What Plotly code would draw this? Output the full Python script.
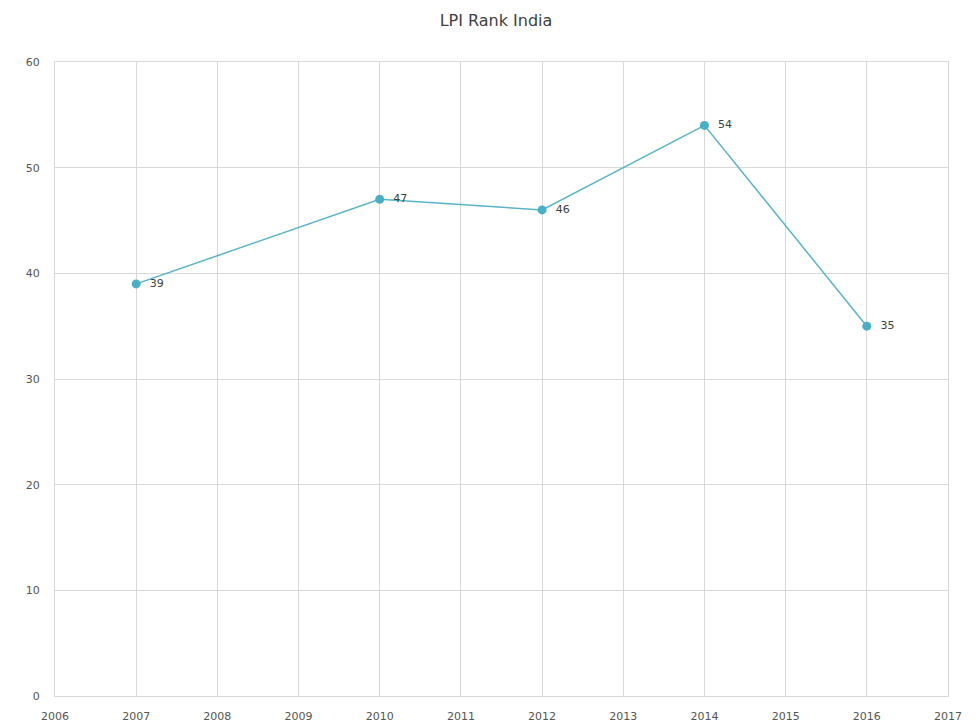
import plotly.graph_objects as go

years = [2007, 2010, 2012, 2014, 2016]
rank = [39, 47, 46, 54, 35]
labels = ["  " + str(v) for v in rank]

fig = go.Figure()
fig.add_trace(go.Scatter(
    x=years, y=rank, mode="lines+markers+text",
    text=labels, textposition="middle right",
    textfont=dict(family="DejaVu Sans", size=11, color="#404040"),
    line=dict(color="#5ab4c9", width=1.5),
    marker=dict(color="#4aaec4", size=9),
    cliponaxis=False, showlegend=False,
))

fig.update_layout(
    width=976, height=728,
    paper_bgcolor="white", plot_bgcolor="white",
    margin=dict(l=47, r=36, t=54, b=40),
    title=dict(text="LPI Rank India", x=0.5, xanchor="center", y=0.983, yanchor="middle",
               font=dict(family="DejaVu Sans", size=16, color="#404040")),
    xaxis=dict(range=[2006, 2017], dtick=1, tick0=2006, showgrid=True,
               gridcolor="#d9d9d9", gridwidth=1, zeroline=False,
               showline=True, mirror=True, linecolor="#d9d9d9", linewidth=1,
               ticks="", ticklabelstandoff=10, automargin=False,
               tickfont=dict(family="DejaVu Sans", size=11, color="#555555")),
    yaxis=dict(range=[0, 60], dtick=10, showgrid=True, gridcolor="#d9d9d9",
               gridwidth=1, zeroline=False,
               showline=True, mirror=True, linecolor="#d9d9d9", linewidth=1,
               ticks="", ticklabelstandoff=12, automargin=False,
               tickfont=dict(family="DejaVu Sans", size=11, color="#555555")),
)

fig.write_html("out.html")
